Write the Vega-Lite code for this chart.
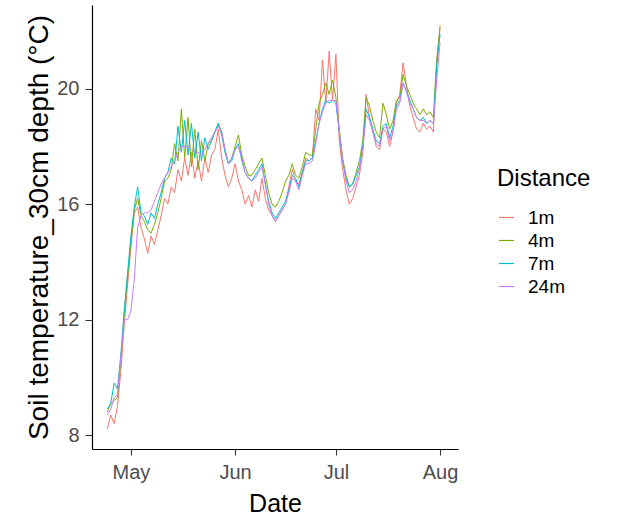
{
  "$schema": "https://vega.github.io/schema/vega-lite/v6.json",
  "width": 366,
  "height": 444,
  "autosize": {"type": "none"},
  "padding": {"left": 92, "top": 5, "right": 160, "bottom": 75},
  "background": "white",
  "config": {
    "view": {"stroke": null},
    "font": "Liberation Sans",
    "axis": {"grid": false, "domainColor": "black", "domainWidth": 1.2, "tickColor": "#333333", "tickWidth": 1.1, "labelColor": "#4D4D4D", "titleColor": "black", "titleFontWeight": "normal", "labelFont": "Liberation Sans", "titleFont": "Liberation Sans"},
    "legend": {"titleFont": "Liberation Sans", "labelFont": "Liberation Sans"}
  },
  "data": {
    "values": [
      {"date": "2021-04-24", "1m": 8.22, "4m": 8.8, "7m": 8.9, "24m": 8.7},
      {"date": "2021-04-25", "1m": 8.7, "4m": 9.1, "7m": 9.1, "24m": 8.9},
      {"date": "2021-04-26", "1m": 8.4, "4m": 9.2, "7m": 9.8, "24m": 9.3},
      {"date": "2021-04-27", "1m": 9.0, "4m": 9.3, "7m": 9.6, "24m": 9.4},
      {"date": "2021-04-28", "1m": 10.2, "4m": 10.6, "7m": 10.8, "24m": 10.7},
      {"date": "2021-04-29", "1m": 11.8, "4m": 12.2, "7m": 12.3, "24m": 12.0},
      {"date": "2021-04-30", "1m": 13.2, "4m": 13.5, "7m": 13.6, "24m": 12.0},
      {"date": "2021-05-01", "1m": 14.5, "4m": 14.7, "7m": 14.9, "24m": 12.3},
      {"date": "2021-05-02", "1m": 15.7, "4m": 15.8, "7m": 15.9, "24m": 13.4},
      {"date": "2021-05-03", "1m": 15.9, "4m": 16.2, "7m": 16.6, "24m": 15.2},
      {"date": "2021-05-04", "1m": 15.2, "4m": 15.6, "7m": 15.7, "24m": 15.6},
      {"date": "2021-05-05", "1m": 14.8, "4m": 15.4, "7m": 15.6, "24m": 15.7},
      {"date": "2021-05-06", "1m": 14.3, "4m": 15.1, "7m": 15.3, "24m": 15.7},
      {"date": "2021-05-07", "1m": 14.9, "4m": 15.0, "7m": 15.7, "24m": 15.8},
      {"date": "2021-05-08", "1m": 14.6, "4m": 15.3, "7m": 15.5, "24m": 16.1},
      {"date": "2021-05-09", "1m": 15.1, "4m": 15.7, "7m": 16.0, "24m": 16.4},
      {"date": "2021-05-10", "1m": 15.6, "4m": 16.2, "7m": 16.4, "24m": 16.7},
      {"date": "2021-05-11", "1m": 16.2, "4m": 16.8, "7m": 16.9, "24m": 16.9},
      {"date": "2021-05-12", "1m": 16.0, "4m": 16.9, "7m": 17.1, "24m": 17.1},
      {"date": "2021-05-13", "1m": 16.6, "4m": 17.2, "7m": 17.6, "24m": 17.3},
      {"date": "2021-05-14", "1m": 16.4, "4m": 18.1, "7m": 17.4, "24m": 17.5},
      {"date": "2021-05-15", "1m": 17.2, "4m": 17.5, "7m": 18.7, "24m": 17.8},
      {"date": "2021-05-16", "1m": 16.8, "4m": 19.3, "7m": 17.8, "24m": 18.0},
      {"date": "2021-05-17", "1m": 17.6, "4m": 17.6, "7m": 18.9, "24m": 18.0},
      {"date": "2021-05-18", "1m": 17.0, "4m": 19.0, "7m": 17.7, "24m": 18.0},
      {"date": "2021-05-19", "1m": 17.8, "4m": 17.3, "7m": 18.8, "24m": 17.9},
      {"date": "2021-05-20", "1m": 16.9, "4m": 18.6, "7m": 17.6, "24m": 17.8},
      {"date": "2021-05-21", "1m": 17.5, "4m": 17.2, "7m": 18.5, "24m": 17.8},
      {"date": "2021-05-22", "1m": 16.8, "4m": 18.2, "7m": 17.5, "24m": 17.7},
      {"date": "2021-05-23", "1m": 17.6, "4m": 17.5, "7m": 18.3, "24m": 17.9},
      {"date": "2021-05-24", "1m": 17.1, "4m": 18.1, "7m": 17.9, "24m": 18.1},
      {"date": "2021-05-25", "1m": 17.7, "4m": 18.2, "7m": 18.2, "24m": 18.3},
      {"date": "2021-05-26", "1m": 17.9, "4m": 18.5, "7m": 18.5, "24m": 18.5},
      {"date": "2021-05-27", "1m": 18.6, "4m": 18.8, "7m": 18.8, "24m": 18.7},
      {"date": "2021-05-28", "1m": 17.6, "4m": 18.5, "7m": 18.4, "24m": 18.5},
      {"date": "2021-05-29", "1m": 17.0, "4m": 17.9, "7m": 17.8, "24m": 17.9},
      {"date": "2021-05-30", "1m": 16.6, "4m": 17.4, "7m": 17.4, "24m": 17.4},
      {"date": "2021-05-31", "1m": 16.9, "4m": 17.6, "7m": 17.5, "24m": 17.6},
      {"date": "2021-06-01", "1m": 17.4, "4m": 18.0, "7m": 17.9, "24m": 17.9},
      {"date": "2021-06-02", "1m": 16.8, "4m": 18.4, "7m": 18.1, "24m": 18.0},
      {"date": "2021-06-03", "1m": 16.5, "4m": 17.7, "7m": 17.5, "24m": 17.6},
      {"date": "2021-06-04", "1m": 16.0, "4m": 17.3, "7m": 17.1, "24m": 17.1},
      {"date": "2021-06-05", "1m": 16.3, "4m": 17.0, "7m": 16.9, "24m": 16.9},
      {"date": "2021-06-06", "1m": 15.9, "4m": 17.0, "7m": 16.8, "24m": 16.8},
      {"date": "2021-06-07", "1m": 16.5, "4m": 17.2, "7m": 17.0, "24m": 16.9},
      {"date": "2021-06-08", "1m": 16.1, "4m": 17.4, "7m": 17.2, "24m": 17.1},
      {"date": "2021-06-09", "1m": 16.9, "4m": 17.6, "7m": 17.4, "24m": 17.3},
      {"date": "2021-06-10", "1m": 16.2, "4m": 17.0, "7m": 16.7, "24m": 16.7},
      {"date": "2021-06-11", "1m": 15.8, "4m": 16.4, "7m": 16.1, "24m": 16.0},
      {"date": "2021-06-12", "1m": 15.6, "4m": 16.0, "7m": 15.7, "24m": 15.6},
      {"date": "2021-06-13", "1m": 15.4, "4m": 15.9, "7m": 15.5, "24m": 15.4},
      {"date": "2021-06-14", "1m": 15.6, "4m": 16.1, "7m": 15.7, "24m": 15.6},
      {"date": "2021-06-15", "1m": 15.8, "4m": 16.4, "7m": 15.9, "24m": 15.8},
      {"date": "2021-06-16", "1m": 16.0, "4m": 16.8, "7m": 16.1, "24m": 16.0},
      {"date": "2021-06-17", "1m": 16.6, "4m": 17.0, "7m": 16.5, "24m": 16.4},
      {"date": "2021-06-18", "1m": 17.2, "4m": 17.4, "7m": 17.0, "24m": 16.9},
      {"date": "2021-06-19", "1m": 16.8, "4m": 17.0, "7m": 16.9, "24m": 16.8},
      {"date": "2021-06-20", "1m": 16.7, "4m": 16.9, "7m": 16.6, "24m": 16.5},
      {"date": "2021-06-21", "1m": 17.1, "4m": 17.3, "7m": 17.1, "24m": 17.0},
      {"date": "2021-06-22", "1m": 17.6, "4m": 17.8, "7m": 17.5, "24m": 17.4},
      {"date": "2021-06-23", "1m": 17.5, "4m": 17.7, "7m": 17.5, "24m": 17.4},
      {"date": "2021-06-24", "1m": 17.6, "4m": 17.7, "7m": 17.6, "24m": 17.5},
      {"date": "2021-06-25", "1m": 19.3, "4m": 18.6, "7m": 18.2, "24m": 18.1},
      {"date": "2021-06-26", "1m": 18.9, "4m": 19.5, "7m": 18.8, "24m": 18.8},
      {"date": "2021-06-27", "1m": 21.0, "4m": 19.8, "7m": 19.3, "24m": 19.2},
      {"date": "2021-06-28", "1m": 19.5, "4m": 20.2, "7m": 19.6, "24m": 19.5},
      {"date": "2021-06-29", "1m": 21.3, "4m": 19.8, "7m": 19.5, "24m": 19.6},
      {"date": "2021-06-30", "1m": 19.6, "4m": 20.3, "7m": 19.6, "24m": 19.6},
      {"date": "2021-07-01", "1m": 21.2, "4m": 19.7, "7m": 19.5, "24m": 19.6},
      {"date": "2021-07-02", "1m": 18.2, "4m": 18.6, "7m": 18.5, "24m": 18.5},
      {"date": "2021-07-03", "1m": 17.2, "4m": 17.6, "7m": 17.5, "24m": 17.5},
      {"date": "2021-07-04", "1m": 16.5, "4m": 17.0, "7m": 16.9, "24m": 16.8},
      {"date": "2021-07-05", "1m": 16.0, "4m": 16.6, "7m": 16.6, "24m": 16.4},
      {"date": "2021-07-06", "1m": 16.2, "4m": 16.7, "7m": 16.7, "24m": 16.5},
      {"date": "2021-07-07", "1m": 16.6, "4m": 17.1, "7m": 17.0, "24m": 16.8},
      {"date": "2021-07-08", "1m": 17.0, "4m": 17.5, "7m": 17.3, "24m": 17.2},
      {"date": "2021-07-09", "1m": 17.8, "4m": 18.2, "7m": 18.0, "24m": 17.9},
      {"date": "2021-07-10", "1m": 19.8, "4m": 19.7, "7m": 19.3, "24m": 19.1},
      {"date": "2021-07-11", "1m": 19.0, "4m": 19.4, "7m": 19.0, "24m": 18.9},
      {"date": "2021-07-12", "1m": 18.5, "4m": 18.9, "7m": 18.6, "24m": 18.5},
      {"date": "2021-07-13", "1m": 18.0, "4m": 18.5, "7m": 18.2, "24m": 18.1},
      {"date": "2021-07-14", "1m": 17.9, "4m": 18.3, "7m": 18.1, "24m": 18.0},
      {"date": "2021-07-15", "1m": 18.6, "4m": 19.5, "7m": 18.7, "24m": 18.6},
      {"date": "2021-07-16", "1m": 18.5, "4m": 19.1, "7m": 18.8, "24m": 18.7},
      {"date": "2021-07-17", "1m": 18.0, "4m": 18.6, "7m": 18.3, "24m": 18.2},
      {"date": "2021-07-18", "1m": 18.5, "4m": 18.9, "7m": 18.7, "24m": 18.5},
      {"date": "2021-07-19", "1m": 19.5, "4m": 19.6, "7m": 19.4, "24m": 19.3},
      {"date": "2021-07-20", "1m": 19.8, "4m": 19.7, "7m": 19.6, "24m": 19.5},
      {"date": "2021-07-21", "1m": 20.9, "4m": 20.5, "7m": 20.2, "24m": 20.2},
      {"date": "2021-07-22", "1m": 20.1, "4m": 20.1, "7m": 19.9, "24m": 19.9},
      {"date": "2021-07-23", "1m": 19.4, "4m": 19.8, "7m": 19.6, "24m": 19.5},
      {"date": "2021-07-24", "1m": 19.0, "4m": 19.5, "7m": 19.3, "24m": 19.3},
      {"date": "2021-07-25", "1m": 18.6, "4m": 19.3, "7m": 19.0, "24m": 19.0},
      {"date": "2021-07-26", "1m": 18.5, "4m": 19.1, "7m": 18.9, "24m": 18.9},
      {"date": "2021-07-27", "1m": 18.8, "4m": 19.3, "7m": 19.0, "24m": 18.9},
      {"date": "2021-07-28", "1m": 18.6, "4m": 19.1, "7m": 18.8, "24m": 18.8},
      {"date": "2021-07-29", "1m": 18.7, "4m": 19.2, "7m": 18.9, "24m": 18.9},
      {"date": "2021-07-30", "1m": 18.5, "4m": 19.0, "7m": 18.8, "24m": 18.8},
      {"date": "2021-07-31", "1m": 20.9, "4m": 21.0, "7m": 20.8, "24m": 20.3},
      {"date": "2021-08-01", "1m": 22.2, "4m": 22.1, "7m": 21.9, "24m": 21.6}
    ]
  },
  "transform": [
    {"fold": ["1m", "4m", "7m", "24m"], "as": ["Distance", "temp"]}
  ],
  "mark": {"type": "line", "strokeWidth": 1, "interpolate": "linear"},
  "encoding": {
    "x": {
      "field": "date",
      "type": "temporal",
      "scale": {
        "type": "utc",
        "domain": [
          {"year": 2021, "month": 4, "date": 19, "hours": 10, "utc": true},
          {"year": 2021, "month": 8, "date": 6, "hours": 8, "utc": true}
        ]
      },
      "axis": {
        "title": "Date",
        "titleFontSize": 25,
        "titlePadding": 9,
        "labelFontSize": 20,
        "labelPadding": 7,
        "tickSize": 6,
        "format": "%b",
        "values": [
          {"year": 2021, "month": 5, "date": 1, "utc": true},
          {"year": 2021, "month": 6, "date": 1, "utc": true},
          {"year": 2021, "month": 7, "date": 1, "utc": true},
          {"year": 2021, "month": 8, "date": 1, "utc": true}
        ]
      }
    },
    "y": {
      "field": "temp",
      "type": "quantitative",
      "scale": {"domain": [7.52, 22.9], "nice": false, "zero": false},
      "axis": {
        "title": "Soil temperature_30cm depth (°C)",
        "titleFontSize": 28,
        "titlePadding": 3,
        "labelFontSize": 20,
        "labelPadding": 6,
        "tickSize": 7,
        "values": [8, 12, 16, 20]
      }
    },
    "color": {
      "field": "Distance",
      "type": "nominal",
      "sort": ["1m", "4m", "7m", "24m"],
      "scale": {"domain": ["1m", "4m", "7m", "24m"], "range": ["#F8766D", "#7CAE00", "#00BFC4", "#C77CFF"]},
      "legend": {
        "orient": "none",
        "legendX": 405,
        "legendY": 162,
        "padding": 0,
        "title": "Distance",
        "titleFontSize": 24,
        "titleFontWeight": "normal",
        "titleColor": "black",
        "titlePadding": 17,
        "labelFontSize": 19,
        "labelColor": "black",
        "labelOffset": 12,
        "rowPadding": 3,
        "symbolType": "stroke",
        "symbolSize": 225,
        "symbolStrokeWidth": 1.2
      }
    }
  }
}
